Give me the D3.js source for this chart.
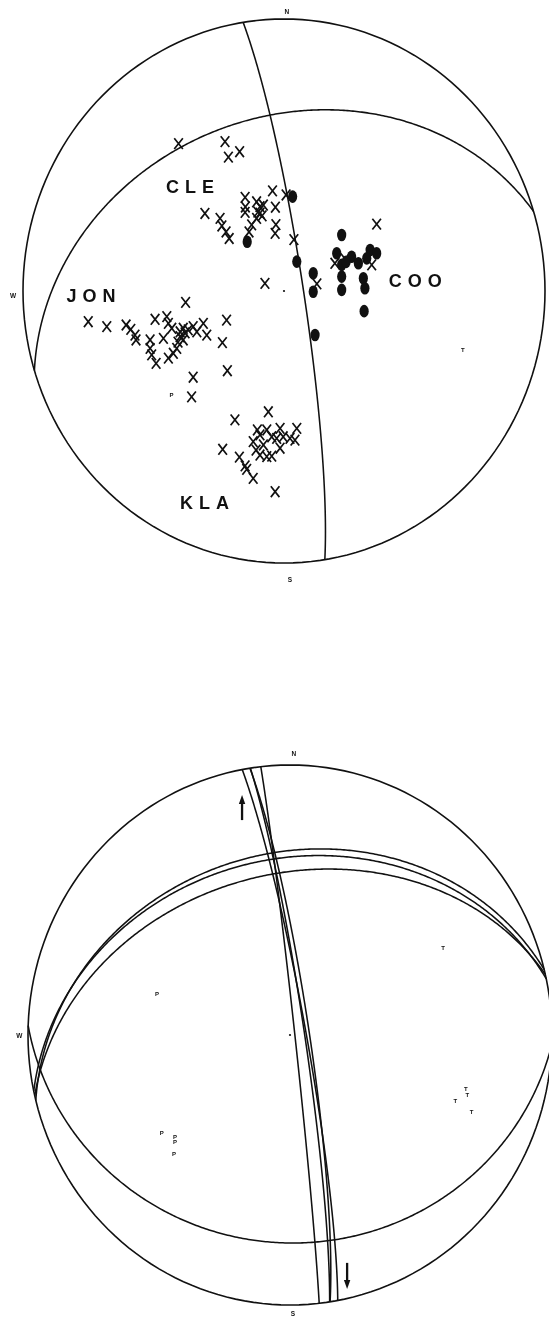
<!DOCTYPE html>
<html>
<head>
<meta charset="utf-8">
<script src="https://cdn.jsdelivr.net/npm/d3@7"></script>
<style>
  html, body { margin: 0; padding: 0; background: #fff; }
  /* keep the small letters in plain black ink */
  svg { display: block; filter: grayscale(1); }
</style>
</head>
<body>
<svg id="fig" width="549" height="1317"></svg>
<script>
// ---- Upper net: composite plot of first motions by station ----
// Nodal planes as [dip direction, dip] in degrees
const upperPlanes = [[81, 84], [343, 36]];

// Observations in net coordinates (east, north), unit = primitive radius
const cleDilatations = [
  [-0.404, 0.542], [-0.226, 0.549], [-0.213, 0.492], [-0.170, 0.512],
  [-0.303, 0.285], [-0.245, 0.267], [-0.238, 0.239], [-0.222, 0.217],
  [-0.210, 0.193], [-0.149, 0.344], [-0.148, 0.309], [-0.149, 0.289],
  [-0.105, 0.328], [-0.092, 0.310], [-0.079, 0.316], [-0.092, 0.286],
  [-0.105, 0.267], [-0.124, 0.243], [-0.044, 0.368], [-0.033, 0.308],
  [-0.031, 0.244], [-0.034, 0.212], [0.038, 0.189], [0.008, 0.353],
  [-0.100, 0.290], [-0.084, 0.276], [-0.134, 0.217]
];
const cooDilatations = [
  [0.126, 0.026], [0.355, 0.246], [0.195, 0.102], [0.336, 0.096], [0.234, 0.118]
];
const jonDilatations = [
  [-0.750, -0.113], [-0.679, -0.131], [-0.605, -0.125], [-0.587, -0.141],
  [-0.571, -0.162], [-0.567, -0.180], [-0.494, -0.104], [-0.449, -0.094],
  [-0.443, -0.119], [-0.430, -0.137], [-0.398, -0.150], [-0.386, -0.137],
  [-0.367, -0.143], [-0.348, -0.131], [-0.334, -0.150], [-0.309, -0.119],
  [-0.296, -0.162], [-0.462, -0.174], [-0.513, -0.180], [-0.513, -0.211],
  [-0.507, -0.235], [-0.490, -0.266], [-0.443, -0.247], [-0.424, -0.229],
  [-0.411, -0.211], [-0.386, -0.180], [-0.398, -0.168], [-0.377, -0.042],
  [-0.220, -0.107], [-0.236, -0.190], [-0.217, -0.293], [-0.348, -0.317],
  [-0.354, -0.389], [-0.379, -0.154], [-0.406, -0.188], [-0.073, 0.028]
];
const klaDilatations = [
  [-0.188, -0.474], [-0.060, -0.444], [-0.235, -0.582], [-0.171, -0.611],
  [-0.149, -0.643], [-0.143, -0.656], [-0.118, -0.689], [-0.034, -0.738],
  [-0.102, -0.511], [-0.066, -0.511], [-0.015, -0.505], [0.049, -0.505],
  [-0.092, -0.529], [-0.047, -0.536], [-0.028, -0.542], [-0.003, -0.536],
  [0.023, -0.542], [0.042, -0.548], [-0.118, -0.554], [-0.107, -0.585],
  [-0.092, -0.603], [-0.066, -0.609], [-0.047, -0.607], [-0.015, -0.578],
  [-0.079, -0.566]
];
const compressions = [
  [0.033, 0.347], [-0.141, 0.181], [0.049, 0.108], [0.112, 0.065],
  [0.112, -0.003], [0.119, -0.162], [0.221, 0.206], [0.202, 0.139],
  [0.221, 0.096], [0.221, 0.053], [0.221, 0.004], [0.259, 0.126],
  [0.285, 0.102], [0.304, 0.047], [0.310, 0.010], [0.330, 0.151],
  [0.355, 0.139], [0.317, 0.120], [0.307, -0.074], [0.238, 0.107]
];
const stationNames = ["CLE", "COO", "JON", "KLA"];
const stationLabelPos = [[-0.452, 0.386], [0.401, 0.039], [-0.833, -0.018], [-0.398, -0.776]];
const upperP = [[-0.431, -0.384]];
const upperT = [[0.685, -0.217]];

// ---- Lower net: individual mechanisms ----
const lowerPlanes = [
  [79.5, 85], [81.3, 85.5], [81.2, 84], [83.6, 88.5],
  [346, 33], [348, 35], [347, 40], [182, 24]
];
const lowerP = [[-0.508, 0.151], [-0.489, -0.364], [-0.439, -0.378], [-0.439, -0.396], [-0.443, -0.439]];
const lowerT = [[0.584, 0.323], [0.671, -0.199], [0.677, -0.222], [0.631, -0.244], [0.693, -0.285]];
// Slip arrows: [east, north of tail, north of tip]
const slipArrows = [[-0.183, 0.796, 0.889], [0.218, -0.844, -0.941]];

// Compass letters and their net positions
const compassLetters = ["N", "W", "S"];
const upperCompassPos = [[0.011, 1.029], [-1.038, -0.015], [0.023, -1.062]];
const lowerCompassPos = [[0.015, 1.043], [-1.033, 0.0], [0.011, -1.030]];

const ink = "#111";
const svg = d3.select("#fig");

function drawNet(frame, cfg) {
  const g = svg.append("g");
  const x = d3.scaleLinear().domain([-1, 1]).range([frame.cx - frame.rx, frame.cx + frame.rx]);
  const y = d3.scaleLinear().domain([-1, 1]).range([frame.cy + frame.ry, frame.cy - frame.ry]);

  // Lower-hemisphere equal-area net centred on the vertical
  const proj = d3.geoAzimuthalEqualArea()
    .rotate([0, -90])
    .scale(Math.SQRT1_2)
    .translate([0, 0])
    .clipAngle(90)
    .precision(0.001);
  const toFrame = d3.geoTransform({
    point(px, py) { this.stream.point(x(px), y(-py)); }
  });
  const path = d3.geoPath({ stream: s => proj.stream(toFrame.stream(s)) });

  // primitive circle
  g.append("path")
    .attr("d", path({ type: "Sphere" }))
    .attr("fill", "none").attr("stroke", ink).attr("stroke-width", 1.6);

  // nodal planes as great circles around their poles
  const greatCircle = ([dd, dip]) => {
    const ring = d3.geoCircle().center([-dd, 90 - dip]).radius(90).precision(0.5)().coordinates[0];
    return { type: "LineString", coordinates: ring };
  };
  g.selectAll("path.plane").data(cfg.planes).join("path")
    .attr("class", "plane")
    .attr("d", d => path(greatCircle(d)))
    .attr("fill", "none").attr("stroke", ink).attr("stroke-width", 1.55);

  // centre mark
  g.append("circle").attr("cx", x(0)).attr("cy", y(0)).attr("r", 1.1).attr("fill", ink);

  // compass letters
  g.selectAll("text.compass").data(compassLetters).join("text")
    .attr("class", "compass")
    .attr("x", (d, i) => x(cfg.compass[i][0]))
    .attr("y", (d, i) => y(cfg.compass[i][1]))
    .attr("text-anchor", "middle").attr("dominant-baseline", "central")
    .attr("font-family", "Liberation Sans, Arial, sans-serif")
    .attr("font-weight", "bold").attr("font-size", 6.5).attr("fill", ink)
    .text(d => d);

  // P and T axes
  const axisLetters = [].concat(
    cfg.P.map(p => ({ p, t: "P" })),
    cfg.T.map(p => ({ p, t: "T" }))
  );
  g.selectAll("text.axis").data(axisLetters).join("text")
    .attr("class", "axis")
    .attr("x", d => x(d.p[0])).attr("y", d => y(d.p[1]))
    .attr("text-anchor", "middle").attr("dominant-baseline", "central")
    .attr("font-family", "Liberation Sans, Arial, sans-serif")
    .attr("font-weight", "bold").attr("font-size", 6).attr("fill", ink)
    .text(d => d.t);

  return { g, x, y };
}

// ---- upper net ----
const upper = drawNet({ cx: 284, cy: 291, rx: 261, ry: 272 },
  { planes: upperPlanes, compass: upperCompassPos, P: upperP, T: upperT });

const xGlyph = "M-4.3,-5.4L4.3,5.4M-4.3,5.4L4.3,-5.4";
const dilatations = [].concat(cleDilatations, cooDilatations, jonDilatations, klaDilatations);
upper.g.selectAll("path.dil").data(dilatations).join("path")
  .attr("class", "dil")
  .attr("d", xGlyph)
  .attr("transform", d => `translate(${upper.x(d[0])},${upper.y(d[1])})`)
  .attr("fill", "none").attr("stroke", ink).attr("stroke-width", 1.7);

upper.g.selectAll("ellipse.comp").data(compressions).join("ellipse")
  .attr("class", "comp")
  .attr("cx", d => upper.x(d[0])).attr("cy", d => upper.y(d[1]))
  .attr("rx", 4.6).attr("ry", 6.3).attr("fill", ink);

upper.g.selectAll("text.station").data(stationNames).join("text")
  .attr("class", "station")
  .attr("x", (d, i) => upper.x(stationLabelPos[i][0]))
  .attr("y", (d, i) => upper.y(stationLabelPos[i][1]) + 6.5)
  .attr("font-family", "Liberation Sans, Arial, sans-serif")
  .attr("font-weight", "bold").attr("font-size", 18)
  .attr("letter-spacing", 6).attr("fill", ink)
  .text(d => d);

// ---- lower net ----
const lower = drawNet({ cx: 290, cy: 1035, rx: 262, ry: 270 },
  { planes: lowerPlanes, compass: lowerCompassPos, P: lowerP, T: lowerT });

slipArrows.forEach(([e, n0, n1]) => {
  const ax = lower.x(e), y0 = lower.y(n0), y1 = lower.y(n1);
  const dir = Math.sign(y1 - y0);
  const headLen = 9, headW = 3.2;
  lower.g.append("line")
    .attr("x1", ax).attr("x2", ax).attr("y1", y0).attr("y2", y1 - dir * headLen * 0.6)
    .attr("stroke", ink).attr("stroke-width", 2.3);
  lower.g.append("path")
    .attr("d", `M${ax},${y1}L${ax - headW},${y1 - dir * headLen}L${ax + headW},${y1 - dir * headLen}Z`)
    .attr("fill", ink);
});
</script>
</body>
</html>
